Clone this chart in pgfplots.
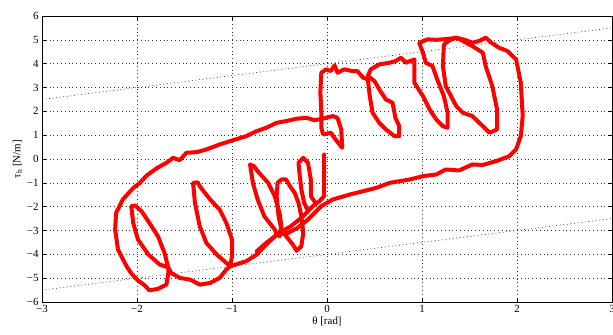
\documentclass[border=0pt]{standalone}
\usepackage{fontspec}
\setmainfont{Liberation Serif}
\usepackage{pgfplots}
\pgfplotsset{compat=1.18}
\begin{document}
\begin{tikzpicture}
\begin{axis}[
  name=ax,
  scale only axis,
  width=570bp, height=286bp,
  xmin=-3, xmax=3, ymin=-6, ymax=6,
  xtick={-3,-2,-1,0,1,2,3},
  xticklabels={−3,−2,−1,0,1,2,3},
  ytick={-6,-5,-4,-3,-2,-1,0,1,2,3,4,5,6},
  yticklabels={−6,−5,−4,−3,−2,−1,0,1,2,3,4,5,6},
  tick align=inside,
  major tick length=4bp,
  tick style={black, line width=0.6bp},
  axis line style={black, line width=0.8bp},
  grid=major,
  major grid style={black!80, line width=0.6bp, dash pattern=on 0.6bp off 3.2bp},
  ticklabel style={font=\fontsize{11}{13}\selectfont},
  label style={font=\fontsize{11}{13}\selectfont},
  xlabel={θ [rad]},
  ylabel={τ\textsubscript{h} [N/m]},
  xlabel style={yshift=3bp},
  ylabel style={yshift=-2bp},
  every axis plot/.append style={line join=round, line cap=round},
]
\addplot[black!80, line width=0.6bp, dash pattern=on 0.6bp off 3bp] coordinates {(-3,2.5) (3,5.5)};
\addplot[black!80, line width=0.6bp, dash pattern=on 0.6bp off 3bp] coordinates {(-3,-5.5) (3,-2.5)};
% main outer path with upper-right loops
\addplot[red, line width=4bp] coordinates {
(-1.67,-4.55) (-1.67,-4.78) (-1.69,-5.27) (-1.78,-5.45) (-1.87,-5.51) (-1.92,-5.30) (-2.00,-5.06) (-2.06,-4.80) (-2.11,-4.50) (-2.20,-3.80) (-2.23,-2.96) (-2.22,-2.26) (-2.15,-1.70) (-2.04,-1.22) (-1.97,-1.00) (-1.90,-0.70) (-1.79,-0.38) (-1.69,-0.16) (-1.62,0.05) (-1.55,-0.05) (-1.48,0.26) (-1.37,0.29) (-1.27,0.40) (-1.13,0.61) (-1.02,0.75) (-0.85,0.96) (-0.74,1.17) (-0.64,1.31) (-0.53,1.52) (-0.43,1.59) (-0.32,1.69) (-0.22,1.73) (-0.13,1.63) (-0.06,1.68) (0.06,1.80) (0.11,1.73) (0.15,1.24) (0.16,0.47) (0.09,0.82) (0.04,1.10) (-0.04,1.03) (-0.06,1.30) (-0.06,2.00) (-0.07,2.80) (-0.06,3.62) (-0.01,3.76) (0.04,3.69) (0.08,3.93) (0.11,3.62) (0.18,3.76) (0.27,3.69) (0.32,3.69) (0.38,3.41) (0.43,3.34) (0.45,2.64) (0.48,1.94) (0.55,1.52) (0.62,1.24) (0.71,0.96) (0.76,0.96) (0.76,1.38) (0.72,1.73) (0.69,2.36) (0.62,2.50) (0.55,2.92) (0.50,3.27) (0.43,3.48) (0.46,3.76) (0.55,3.97) (0.66,4.04) (0.72,4.11) (0.78,4.25) (0.83,4.04) (0.92,4.18) (0.92,3.90) (0.92,3.20) (1.01,2.64) (1.08,2.08) (1.15,1.66) (1.22,1.38) (1.27,1.31) (1.27,1.94) (1.23,2.64) (1.16,3.34) (1.11,3.90) (1.04,4.04) (1.01,4.46) (0.97,4.88) (1.06,5.02) (1.15,5.00) (1.22,5.02) (1.30,5.05) (1.36,5.09) (1.29,4.98) (1.23,4.80) (1.22,3.90) (1.25,3.06) (1.36,2.22) (1.43,1.94) (1.53,1.80) (1.64,1.38) (1.71,1.10) (1.79,1.24) (1.79,2.08) (1.74,3.06) (1.67,3.90) (1.64,4.46) (1.53,4.74) (1.43,4.95) (1.36,5.09) (1.45,5.00) (1.53,4.88) (1.60,4.95) (1.67,5.09) (1.74,4.85) (1.81,4.67) (1.90,4.53) (1.99,4.18) (2.04,3.20) (2.06,1.80) (2.04,0.96) (1.99,0.40) (1.92,0.12) (1.78,-0.09) (1.64,-0.25) (1.53,-0.23) (1.39,-0.48) (1.25,-0.44) (1.15,-0.65) (1.01,-0.72) (0.87,-0.86) (0.66,-1.00) (0.52,-1.21) (0.38,-1.35) (0.24,-1.49) (0.18,-1.56) (0.06,-1.70) (-0.06,-1.98) (-0.20,-2.54) (-0.31,-2.89) (-0.41,-3.10) (-0.53,-3.17) (-0.64,-3.59) (-0.74,-4.01) (-0.85,-4.29) (-1.02,-4.50) (-1.06,-4.64) (-1.13,-4.99) (-1.23,-5.20) (-1.34,-5.27) (-1.44,-5.06) (-1.55,-4.99) (-1.64,-4.78) (-1.67,-4.55)
};
% left inner loop
\addplot[red, line width=4bp] coordinates {
(-1.67,-4.55) (-1.76,-4.43) (-1.88,-4.01) (-1.99,-3.38) (-2.04,-2.68) (-2.06,-1.98) (-2.02,-1.95) (-1.95,-2.20) (-1.87,-2.68) (-1.78,-3.24) (-1.71,-3.94) (-1.67,-4.57)
};
% middle lower loop
\addplot[red, line width=4bp] coordinates {
(-1.02,-4.50) (-1.16,-4.01) (-1.27,-3.52) (-1.34,-2.82) (-1.39,-1.84) (-1.41,-1.00) (-1.36,-0.98) (-1.34,-1.14) (-1.23,-1.70) (-1.13,-2.12) (-1.06,-2.68) (-1.00,-3.38) (-1.00,-4.08) (-1.02,-4.50)
};
% loop D
\addplot[red, line width=4bp] coordinates {
(-0.53,-3.17) (-0.55,-2.96) (-0.66,-2.40) (-0.73,-1.70) (-0.78,-1.00) (-0.81,-0.23) (-0.77,-0.30) (-0.73,-0.51) (-0.62,-1.00) (-0.55,-1.56) (-0.50,-2.26) (-0.48,-2.82) (-0.50,-3.24)
};
% loop E
\addplot[red, line width=4bp] coordinates {
(-0.32,-3.85) (-0.36,-3.59) (-0.43,-3.24) (-0.48,-2.96) (-0.51,-2.40) (-0.53,-1.56) (-0.52,-1.00) (-0.48,-0.86) (-0.43,-0.86) (-0.39,-1.14) (-0.34,-1.42) (-0.30,-1.84) (-0.27,-2.40) (-0.25,-3.10) (-0.27,-3.66) (-0.32,-3.85)
};
% loop G and stick
\addplot[red, line width=4bp] coordinates {
(-0.20,-2.19) (-0.24,-1.84) (-0.27,-1.28) (-0.29,-0.58) (-0.30,-0.16) (-0.25,0.05) (-0.20,-0.16) (-0.17,-0.86) (-0.17,-1.56) (-0.12,-1.85)
};
\addplot[red, line width=4bp] coordinates {
(-0.03,0.19) (-0.03,-1.56) (-0.08,-1.77) (-0.15,-1.98) (-0.25,-2.40) (-0.38,-2.82) (-0.50,-3.10) (-0.64,-3.52) (-0.74,-3.87)
};
\end{axis}
\pgfresetboundingbox
\path ([xshift=-42bp,yshift=-32bp]ax.south west) rectangle ([xshift=1bp,yshift=16bp]ax.north east);
\end{tikzpicture}
\end{document}
